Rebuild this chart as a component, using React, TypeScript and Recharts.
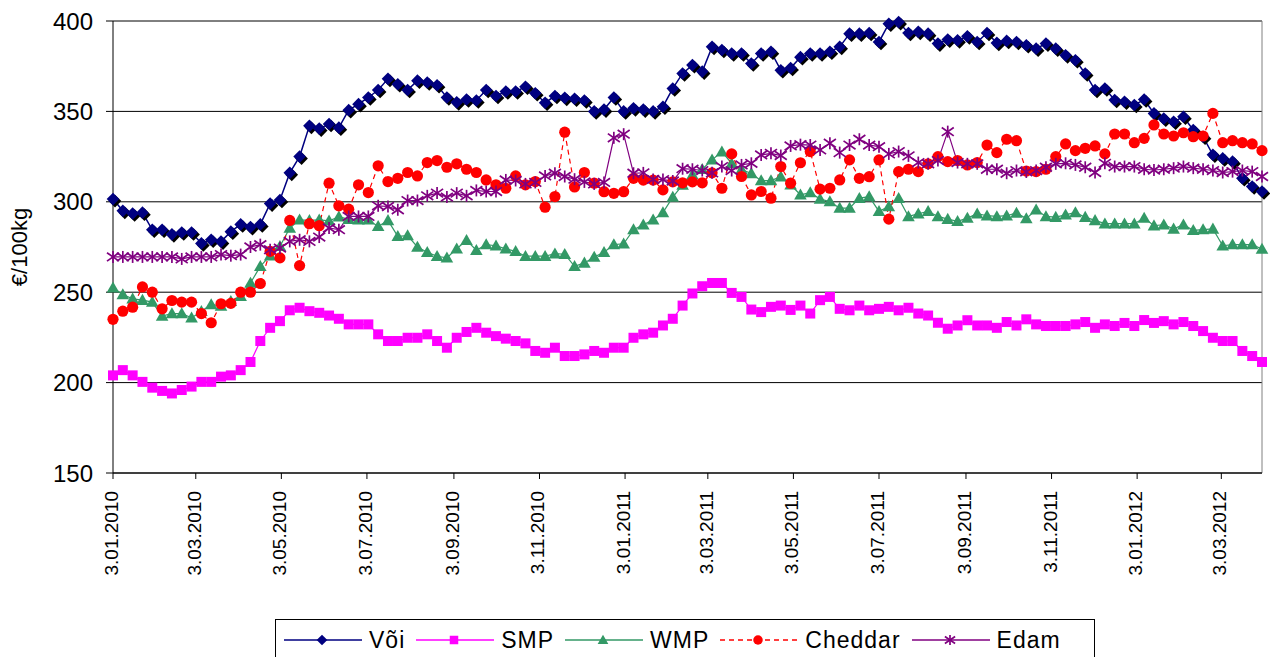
import React from "react";
import {
  LineChart,
  Line,
  XAxis,
  YAxis,
  CartesianGrid,
  Legend,
  ReferenceLine,
} from "recharts";

// weekly prices, €/100kg, first week 3.01.2010
const tickDays = [0, 59, 120, 181, 243, 304, 365, 424, 485, 546, 608, 669, 730, 790];
const tickLabels = [
  "3.01.2010", "3.03.2010", "3.05.2010", "3.07.2010", "3.09.2010", "3.11.2010", "3.01.2011",
  "3.03.2011", "3.05.2011", "3.07.2011", "3.09.2011", "3.11.2011", "3.01.2012", "3.03.2012",
];
const yTicks = [150, 200, 250, 300, 350, 400];

const voi = [
  301.5, 295, 293.5, 294, 284.5, 284.5, 282, 283, 283, 277, 279, 278, 283.5, 287.5, 286, 287.5,
  299, 301, 316, 325, 342, 340.5, 343, 341, 350.7, 354, 357.7, 361.8, 368, 365, 361.8, 367,
  366, 364.5, 357.7, 355, 356.6, 356, 361.8, 358.5, 361, 361, 363.6, 360, 354.8, 358.5, 357.5, 357,
  356, 350, 351, 357.7, 350, 351.7, 351, 350, 352.6, 362.7, 371, 375.6, 372, 385.7, 384, 382,
  382, 376.5, 382, 383, 372.8, 374, 380, 382, 382, 383, 385.7, 393, 393, 393.4, 388.4, 398.5,
  399.4, 393.4, 394, 393, 387.5, 389.7, 389.3, 391.5, 388.4, 393.4, 387.9, 389, 388.4, 386.6, 384.7, 387.5,
  384.7, 381, 378.3, 371, 361.8, 362.7, 356.3, 355.3, 353.5, 356.6, 348.9, 346, 344.3, 347, 339.7, 336,
  326, 324, 322.2, 313, 308.5, 305.7,
];

const smp = [
  204, 206.9, 204, 200.4, 197.2, 195.4, 194, 195.9, 197.8, 200.4, 200.4, 203.3, 204, 206.9, 211.4, 223,
  230.3, 234, 240, 241.4, 239.5, 238.6, 237.1, 235.3, 232.2, 232.2, 232.2, 226.7, 223, 223, 224.8, 224.8,
  226.7, 223, 219.3, 224.8, 228, 230.3, 227.6, 225.7, 224.3, 223, 221.7, 217.5, 216.5, 219.3, 214.7, 214.7,
  215.6, 217.5, 216.5, 219.3, 219.3, 224.8, 226.7, 227.6, 231.6, 235.3, 242.6, 249.3, 253.3, 255.1, 255.1, 249.6,
  247.4, 240.4, 239, 241.9, 242.6, 240.2, 242.6, 238.2, 245.6, 247.4, 240.8, 240, 242.6, 240, 240.8, 241.9,
  240, 241.4, 238.2, 237.1, 233.1, 229.8, 231.6, 234.5, 231.6, 231.6, 230.3, 233.5, 231.6, 235, 232.2, 231.3,
  231.3, 231.3, 232.2, 233.5, 230.3, 232.2, 231.3, 233, 231.3, 234.6, 233, 234, 232.2, 233.5, 231.3, 228.5,
  224.8, 223, 223, 217.5, 214.7, 211.4,
];

const wmp = [
  252.4, 248.7, 246.3, 245.6, 244.5, 236.8, 238.2, 238.2, 235.8, 239.5, 243.2, 242.3, 245, 247.8, 255.1, 264.3,
  270.2, 275.4, 285.5, 290, 289.7, 290, 289.5, 291.7, 290.4, 290, 290, 286.4, 289.7, 280.9, 281.3, 275,
  272.1, 269.9, 269, 274, 278.7, 273.2, 276.3, 275.7, 274, 272.6, 269.9, 269.9, 269.9, 271.3, 271, 264.3,
  266.2, 269.5, 272.1, 276.3, 276.8, 284.6, 287.3, 290, 294, 302.6, 309.3, 315, 318, 323.2, 327.7, 321.2,
  317.9, 315.7, 311.7, 311.7, 313.9, 309.4, 303.9, 305.1, 301.5, 300.2, 296.5, 296.5, 302, 302.9, 294.7, 297.4,
  302, 291.9, 293.4, 294.7, 291.9, 290.4, 289.2, 291, 293.4, 292.3, 291.9, 292.3, 293.8, 290.7, 295.6, 291.9,
  291.5, 292.8, 294.1, 291.5, 289.7, 287.9, 287.9, 287.9, 287.9, 291, 286.8, 287.3, 285, 287.3, 284.2, 284.6,
  285, 275.7, 276.3, 276.3, 276.3, 273.9,
];

const cheddar = [
  235, 239.5, 241.7, 252.9, 250, 240.8, 245.4, 244.5, 244.5, 238.2, 233.1, 243.6, 243.8, 250, 250, 254.8,
  272.6, 269, 289.7, 264.7, 287.9, 286.8, 310.3, 297.8, 295.9, 309.4, 305.1, 319.9, 311.2, 313, 316.2, 314.3,
  321.7, 322.8, 319.1, 321, 318, 316.2, 312.1, 309.4, 307.5, 314.3, 309.4, 311.2, 297, 302.9, 338.5, 308.2,
  316.2, 310.3, 305.6, 304.7, 305.6, 313, 312, 312, 306.6, 311, 310.5, 311, 310.5, 316, 307.5, 326.5,
  314, 303.8, 305.7, 302, 319.5, 310.3, 321.6, 327.8, 307, 307.5, 312.1, 323.2, 313, 313.9, 323.2, 290.4,
  316.7, 318, 316.7, 321, 325, 322.2, 322.8, 320.4, 321.7, 331.4, 327.2, 334.6, 333.8, 317, 316.7, 318,
  325, 332, 328.3, 329.6, 330.9, 326.5, 337.5, 337.5, 332.7, 335.1, 342.5, 337.5, 336.4, 338.2, 336, 336.4,
  348.9, 332.7, 333.8, 332.7, 332, 328.3,
];

const edam = [
  269.5, 269.5, 269.5, 269.5, 269.5, 269.5, 269.5, 268.4, 269.5, 269.5, 269.5, 270.8, 270.2, 270.8, 275, 276.3,
  273.5, 274.4, 278.1, 279, 278.1, 280.5, 285.5, 284.6, 291.9, 291.9, 291.9, 297.8, 297.4, 295.6, 300.7, 300.7,
  303.3, 304.8, 302.6, 304.8, 303.3, 306.3, 305.7, 305.7, 312.1, 311.8, 309.9, 310.7, 314.3, 315.8, 314, 312.5,
  311, 309.9, 310.7, 335.4, 337.4, 315.8, 316, 312.4, 312.3, 311.5, 318.3, 318, 317.3, 316, 319.5, 317.3,
  320.4, 321.3, 325.9, 326.8, 325.6, 330.9, 331.6, 331.4, 328.7, 332.4, 327.2, 331.4, 334.6, 331.4, 330.5, 326.5,
  327.8, 325.4, 321.7, 321, 322.8, 338.8, 321.7, 321, 321, 318, 318, 315.8, 317.3, 316.5, 317.3, 319.1,
  321, 321.3, 320.4, 319.1, 316.2, 321.3, 319.5, 319.5, 319.5, 318, 317.6, 318, 318.6, 319.5, 318.6, 318,
  317.3, 316.2, 316.7, 317.3, 316.7, 314,
];

const chartData = voi.map((v, i) => ({
  day: i * 7,
  voi: v,
  smp: smp[i],
  wmp: wmp[i],
  cheddar: cheddar[i],
  edam: edam[i],
}));

const FONT = '"Liberation Sans", Arial, sans-serif';

type Shape = "diamond" | "square" | "triangle" | "circle" | "star";

const series: { key: string; name: string; color: string; shape: Shape; dash?: string }[] = [
  { key: "voi", name: "Või", color: "#000080", shape: "diamond" },
  { key: "smp", name: "SMP", color: "#FF00FF", shape: "square" },
  { key: "wmp", name: "WMP", color: "#339966", shape: "triangle" },
  { key: "cheddar", name: "Cheddar", color: "#FF0000", shape: "circle", dash: "5 4" },
  { key: "edam", name: "Edam", color: "#800080", shape: "star" },
];

// k scales the marker: 1 in the plot, smaller in the legend
function marker(shape: Shape, cx: number, cy: number, color: string, shadow: boolean, k = 1) {
  switch (shape) {
    case "diamond": {
      const s = 6.3 * k;
      const pts = (x: number, y: number) => `${x},${y - s} ${x + s},${y} ${x},${y + s} ${x - s},${y}`;
      return (
        <g>
          {shadow && <polygon points={pts(cx + 2, cy + 2)} fill="#000" />}
          <polygon points={pts(cx, cy)} fill={color} />
        </g>
      );
    }
    case "square": {
      const s = 5 * k;
      return <rect x={cx - s} y={cy - s} width={2 * s} height={2 * s} fill={color} />;
    }
    case "triangle": {
      const s = 6.3 * k;
      return <polygon points={`${cx},${cy - s} ${cx + s},${cy + s * 0.75} ${cx - s},${cy + s * 0.75}`} fill={color} />;
    }
    case "circle":
      return <circle cx={cx} cy={cy} r={5.6 * k} fill={color} />;
    default: {
      const s = 6 * k;
      return (
        <g stroke={color} strokeWidth={1.7}>
          <line x1={cx} y1={cy - s} x2={cx} y2={cy + s} />
          <line x1={cx - s} y1={cy - s * 0.7} x2={cx + s} y2={cy + s * 0.7} />
          <line x1={cx - s} y1={cy + s * 0.7} x2={cx + s} y2={cy - s * 0.7} />
        </g>
      );
    }
  }
}

const XTick = (props: any) => {
  const { x, y, payload } = props;
  const i = tickDays.indexOf(payload.value);
  const tx = x + 5;
  return (
    <text
      x={tx}
      y={y}
      transform={`rotate(-90 ${tx} ${y})`}
      textAnchor="end"
      fontSize={19}
      fontFamily={FONT}
      fill="#000"
    >
      {tickLabels[i]}
    </text>
  );
};

const YTitle = (props: any) => {
  const vb = props.viewBox || { y: 21, height: 452 };
  const cy = vb.y + vb.height / 2;
  return (
    <text
      x={27}
      y={cy}
      transform={`rotate(-90 27 ${cy})`}
      textAnchor="middle"
      fontSize={22}
      fontFamily={FONT}
      fill="#000"
    >
      €/100kg
    </text>
  );
};

const LegendBox = () => (
  <div
    style={{
      boxSizing: "border-box",
      width: 820,
      height: 38,
      border: "1px solid #000",
      borderBottom: "none",
      display: "flex",
      alignItems: "center",
      paddingLeft: 8,
      paddingTop: 2,
      fontFamily: FONT,
      fontSize: 23,
      letterSpacing: 1,
      color: "#000",
    }}
  >
    {series.map((s) => (
      <div key={s.key} style={{ display: "flex", alignItems: "center", marginRight: 11 }}>
        <svg width={78} height={16} style={{ display: "block" }}>
          <line x1={0} y1={8} x2={78} y2={8} stroke={s.color} strokeWidth={1.3} strokeDasharray={s.dash} />
          {marker(s.shape, 38, 8, s.color, false, 0.85)}
        </svg>
        <span style={{ marginLeft: 7, lineHeight: "30px" }}>{s.name}</span>
      </div>
    ))}
  </div>
);

export default function App() {
  return (
    <div style={{ position: "absolute", left: 0, top: 0, width: 1270, height: 657, background: "#fff" }}>
      <LineChart
        width={1270}
        height={657}
        data={chartData}
        margin={{ top: 21, right: 8, left: 0, bottom: 0 }}
      >
        <CartesianGrid vertical={false} stroke="#000" />
        <ReferenceLine y={400} stroke="#808080" />
        <ReferenceLine x={819} stroke="#808080" />
        <XAxis
          type="number"
          dataKey="day"
          domain={[0, 819]}
          ticks={tickDays}
          interval={0}
          height={184}
          tickSize={6}
          tickMargin={12}
          tick={<XTick />}
          axisLine={{ stroke: "#000" }}
          tickLine={{ stroke: "#000" }}
        />
        <YAxis
          domain={[150, 400]}
          ticks={yTicks}
          width={113}
          tickSize={7}
          tickMargin={13}
          tick={{ fill: "#000", fontSize: 24, fontFamily: FONT }}
          axisLine={{ stroke: "#000" }}
          tickLine={{ stroke: "#000" }}
          label={<YTitle />}
        />
        <Legend
          layout="horizontal"
          align="center"
          verticalAlign="middle"
          content={() => <LegendBox />}
          wrapperStyle={{ left: 275, top: 619, width: 820, height: 38 }}
        />
        {series.map((s) => (
          <Line
            key={s.key}
            type="linear"
            dataKey={s.key}
            name={s.name}
            stroke={s.color}
            strokeWidth={s.key === "voi" ? 1.5 : 1.2}
            strokeDasharray={s.dash}
            isAnimationActive={false}
            activeDot={false}
            dot={(p: any) =>
              p.cx == null ? <g key={p.index} /> : <g key={p.index}>{marker(s.shape, p.cx, p.cy, s.color, s.key === "voi")}</g>
            }
          />
        ))}
      </LineChart>
    </div>
  );
}
